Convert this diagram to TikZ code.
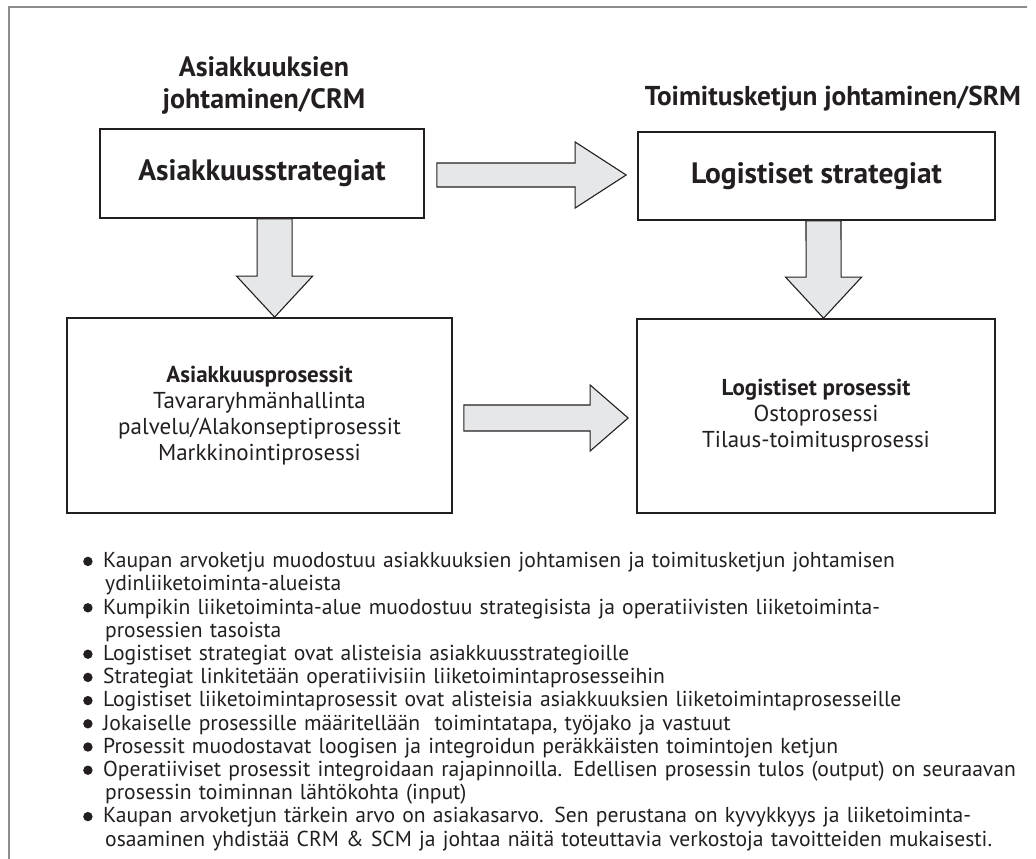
\documentclass[tikz,border=0pt]{standalone}
\usepackage{fontspec}
\setmainfont{PT Sans}
\usetikzlibrary{calc}
\definecolor{ink}{HTML}{231F20}
\definecolor{arrowfill}{HTML}{E6E7E8}
\definecolor{framegray}{HTML}{8C8C8C}

% block arrow pointing down: #1 shaft start, #2 tip, #3 shaft half width, #4 head half width, #5 head length
\newcommand{\blockdown}[5]{%
  \draw[blockarrow] ($(#1)+(-#3,0)$) -- ($(#2)+(-#3,-#5)$) -- ($(#2)+(-#4,-#5)$) -- (#2)
    -- ($(#2)+(#4,-#5)$) -- ($(#2)+(#3,-#5)$) -- ($(#1)+(#3,0)$) -- cycle;}
% block arrow pointing right, same arguments
\newcommand{\blockright}[5]{%
  \draw[blockarrow] ($(#1)+(0,-#3)$) -- ($(#2)+(-#5,-#3)$) -- ($(#2)+(-#5,-#4)$) -- (#2)
    -- ($(#2)+(-#5,#4)$) -- ($(#2)+(-#5,#3)$) -- ($(#1)+(0,#3)$) -- cycle;}
% round bullet mark and bullet item with hanging indent
\newcommand{\bulletdot}{\tikz[x=1pt,y=1pt,baseline=0pt]\fill[ink] (4.6,6.3) circle (4.7pt);}
\newcommand{\bitem}{\par\hangindent=22pt\hangafter=1\noindent
  \makebox[20pt][l]{\bulletdot}}

\begin{document}
\begin{tikzpicture}[x=1pt,y=-1pt,
  every node/.style={text=ink, inner sep=0pt},
  box/.style={draw=ink, line width=1.7pt, fill=white, align=center},
  blockarrow/.style={draw=ink, line width=1.1pt, fill=arrowfill, line join=miter},
  heading/.style={font=\fontsize{28}{32}\selectfont\bfseries, align=center},
  stratbox/.style={box, font=\fontsize{29.5}{32}\selectfont\bfseries},
  procbox/.style={box, font=\fontsize{23}{26}\selectfont}]
\useasboundingbox (0,0) rectangle (1036,859);

% outer frame (top and left sides only)
\draw[framegray, line width=1.5pt] (1027,7) -- (9,7) -- (9,859);

% headings
\node[heading] (crmhead) at (264,85) {Asiakkuuksien\\johtaminen/CRM};
\node[heading, font=\fontsize{27.3}{32}\selectfont\bfseries, anchor=base] (srmhead) at (833,106)
  {Toimitusketjun johtaminen/SRM};

% boxes
\node[stratbox, minimum width=324pt, minimum height=89pt] (A) at (262,173.5) {Asiakkuusstrategiat};
\node[stratbox, minimum width=357pt, minimum height=88pt] (B) at (816.5,176) {Logistiset strategiat};
\node[procbox, minimum width=385pt, minimum height=195pt] (C) at (259.5,415.5)
  {\textbf{Asiakkuusprosessit}\\Tavararyhmänhallinta\\palvelu/Alakonseptiprosessit\\Markkinointiprosessi};
\node[procbox, minimum width=358pt, minimum height=194pt] (D) at (816,416)
  {\textbf{Logistiset prosessit}\\Ostoprosessi\\Tilaus-toimitusprosessi};

% connectors between the boxes
\coordinate (acS) at ($(A.south west)!0.5386!(A.south east)$);
\coordinate (acT) at ($(C.north west)!0.539!(C.north east)$);
\blockdown{acS}{acT}{17.5}{38}{41}
\coordinate (bdS) at ($(B.south west)!0.5196!(B.south east)$);
\coordinate (bdT) at ($(D.north west)!0.521!(D.north east)$);
\blockdown{bdS}{bdT}{17.5}{38}{41}
\coordinate (abS) at ($(A.east)+(12,1.5)$);
\coordinate (abT) at ($(B.west)+(-11,-1)$);
\blockright{abS}{abT}{12}{33}{51}
\coordinate (cdS) at ($(C.east)+(11,2.5)$);
\coordinate (cdT) at ($(D.west)+(-8,2)$);
\blockright{cdS}{cdT}{13}{33}{38}

% notes
\node[anchor=base west, text width=1000pt, font=\fontsize{21.6}{23.2}\selectfont] (notes) at (83,544.5) {%
\raggedright
\bitem Kaupan arvoketju muodostuu asiakkuuksien johtamisen ja toimitusketjun johtamisen\newline ydinliiketoiminta-alueista
\bitem Kumpikin liiketoiminta-alue muodostuu strategisista ja operatiivisten liiketoiminta-\newline prosessien tasoista
\bitem Logistiset strategiat ovat alisteisia asiakkuusstrategioille
\bitem Strategiat linkitetään operatiivisiin liiketoimintaprosesseihin
\bitem Logistiset liiketoimintaprosessit ovat alisteisia asiakkuuksien liiketoimintaprosesseille
\bitem Jokaiselle prosessille määritellään\ \ toimintatapa, työjako ja vastuut
\bitem Prosessit muodostavat loogisen ja integroidun peräkkäisten toimintojen ketjun
\bitem Operatiiviset prosessit integroidaan rajapinnoilla. Edellisen prosessin tulos (output) on seuraavan\newline prosessin toiminnan lähtökohta (input)
\bitem Kaupan arvoketjun tärkein arvo on asiakasarvo. Sen perustana on kyvykkyys ja liiketoiminta-\newline osaaminen yhdistää CRM \& SCM ja johtaa näitä toteuttavia verkostoja tavoitteiden mukaisesti.\par};
\end{tikzpicture}
\end{document}
